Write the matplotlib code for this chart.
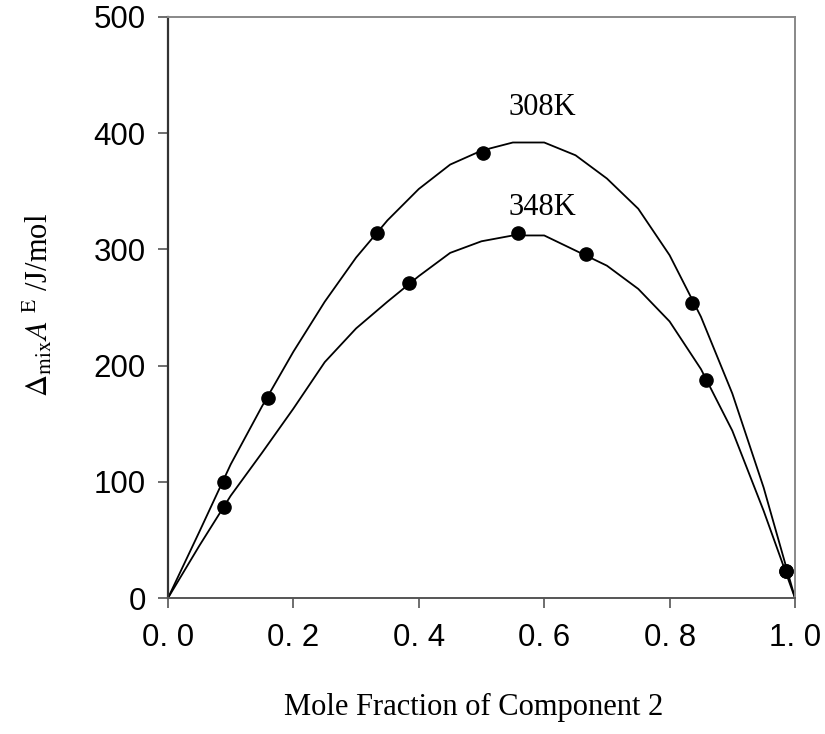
import matplotlib.pyplot as plt

plt.rcParams['mathtext.fontset'] = 'stix'

# smoothed curves (0.05 steps in x2)
x_fit = [0.0, 0.05, 0.1, 0.15, 0.2, 0.25, 0.3, 0.35, 0.4, 0.45, 0.5,
         0.55, 0.6, 0.65, 0.7, 0.75, 0.8, 0.85, 0.9, 0.95, 1.0]
a308_fit = [0, 57, 115, 165, 212, 255, 293, 325, 352, 373, 385,
            392, 392, 381, 361, 335, 295, 242, 176, 95, 0]
a348_fit = [0, 45, 88, 125, 163, 203, 232, 255, 277, 297, 307,
            312, 312, 299, 286, 266, 238, 197, 144, 75, 0]

# measured points
x308 = [0.089, 0.159, 0.333, 0.503, 0.835, 0.985]
a308 = [100, 172, 314, 383, 254, 23]
x348 = [0.089, 0.385, 0.558, 0.666, 0.858, 0.985]
a348 = [78, 271, 314, 296, 188, 23]

xticks = [0.0, 0.2, 0.4, 0.6, 0.8, 1.0]
xticklabels = ['0. 0', '0. 2', '0. 4', '0. 6', '0. 8', '1. 0']
yticks = [0, 100, 200, 300, 400, 500]

fig = plt.figure(figsize=(8.25, 7.34), dpi=100)
ax = fig.add_axes([168/825, 1-598/734, 627/825, 581/734])

ax.plot(x_fit, a308_fit, color='black', lw=1.3)
ax.plot(x_fit, a348_fit, color='black', lw=1.3)
ax.plot(x308, a308, 'o', color='black', ms=9.5)
ax.plot(x348, a348, 'o', color='black', ms=9.5)

ax.text(0.597, 422, '308K', family='Liberation Serif', fontsize=22, ha='center', va='center')
ax.text(0.597, 336, '348K', family='Liberation Serif', fontsize=22, ha='center', va='center')

ax.set_xlim(0, 1)
ax.set_ylim(0, 500)
ax.set_xticks(xticks)
ax.set_xticklabels(xticklabels)
ax.set_yticks(yticks)
for lab in ax.get_xticklabels() + ax.get_yticklabels():
    lab.set_family('Liberation Sans')
    lab.set_fontsize(22.5)
ax.tick_params(axis='both', direction='out', length=7, width=1.2, color='#555555')
ax.tick_params(axis='x', pad=11)
ax.tick_params(axis='y', pad=9)

ax.spines['left'].set_color('#333333')
ax.spines['left'].set_linewidth(1.6)
ax.spines['bottom'].set_color('#555555')
ax.spines['bottom'].set_linewidth(1.4)
for s in ['top', 'right']:
    ax.spines[s].set_color('#888888')
    ax.spines[s].set_linewidth(1.4)

fig.text(474/825, 1-707/734, 'Mole Fraction of Component 2', family='Liberation Serif',
         fontsize=22, ha='center', va='center')
fig.text(38/825, 1-305/734, r'$\Delta_{\rm mix}A^{\rm \ E}$ /J/mol', family='Liberation Serif',
         fontsize=22, ha='center', va='center', rotation=90)

fig.savefig('out.png')
